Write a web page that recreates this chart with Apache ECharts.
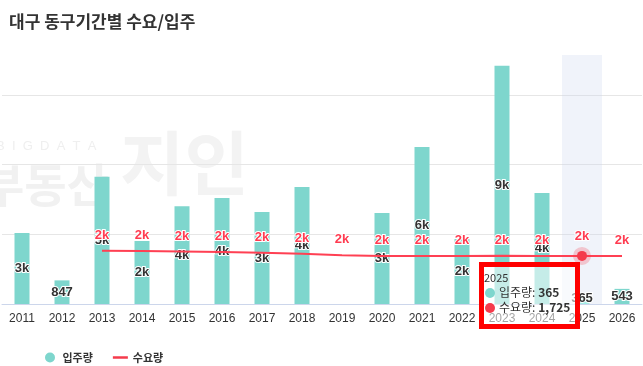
<!DOCTYPE html>
<html>
<head>
<meta charset="utf-8">
<script src="https://cdn.jsdelivr.net/npm/echarts@6/dist/echarts.min.js"></script>
<style>
  html, body { margin: 0; padding: 0; background: #fff; }
  #chart { width: 643px; height: 366px; }
</style>
</head>
<body>
<div id="chart"></div>
<script>
const years = ['2011', '2012', '2013', '2014', '2015', '2016', '2017', '2018',
               '2019', '2020', '2021', '2022', '2023', '2024', '2025', '2026'];
// 입주량
const supply = [2550, 847, 4560, 2260, 3510, 3800, 3300, 4200,
                null, 3260, 5630, 2330, 8540, 3980, 365, 543];
// 수요량
const demand = [null, null, 1912, 1900, 1885, 1865, 1840, 1805,
                1750, 1718, 1722, 1725, 1726, 1725, 1725, 1724];
const tipIndex = 14;

const teal = '#7ed6cd';
const red = '#f53b4c';
const cjk = '"Noto Sans CJK KR", "Noto Sans", sans-serif';
const narrow = '"Liberation Sans Narrow", "Liberation Sans", sans-serif';

const kFormat = (v) => {
    if (v === null || v === undefined) return '';
    if (v < 1000) return v + '';
    return Math.round(v / 1000) + 'k';
};

const comma = (v) => (v + '').replace(/(\d{1,3})(?=(?:\d{3})+(?!\d))/g, '$1,');

const dot = (color) => '<span style="display:inline-block;width:10px;height:10px;border-radius:5px;background:'
    + color + ';margin-right:4px;vertical-align:-1px"></span>';

const tipFormatter = (params) => {
    let html = '<div style="font-size:11px;line-height:13px;margin-left:-1px">' + params[0].name + '</div>';
    params.forEach(p => {
        const color = p.seriesIndex === 0 ? teal : red;
        html += '<div style="line-height:15px">' + dot(color) + p.seriesName + ': <b>' + comma(p.value) + '</b></div>';
    });
    return html;
};

const lineLabel = {
    show: true,
    position: 'top',
    distance: 4,
    formatter: (p) => kFormat(p.value),
    fontFamily: narrow,
    fontSize: 13,
    fontWeight: 'bold',
    color: '#ff3b50',
    textBorderColor: '#fff',
    textBorderWidth: 2
};

const myChart = echarts.init(document.getElementById('chart'));

myChart.setOption({
    animation: false,
    title: {
        text: '대구 동구기간별 수요/입주',
        left: 4,
        top: 8,
        textStyle: { fontFamily: cjk, fontSize: 17, fontWeight: 'bold', color: '#333' }
    },
    graphic: [
        { type: 'text', z: -5, left: -4, top: 140,
          style: { text: 'B  I  G  D  A  T  A', font: '13px ' + narrow, fill: '#efefef' } },
        { type: 'text', z: -5, left: -18, top: 162,
          style: { text: '부동산', font: 'bold 46px ' + cjk, fill: '#f1f1f1' } },
        { type: 'text', z: -5, left: 120, top: 128,
          style: { text: '지인', font: 'bold 70px ' + cjk, fill: '#f3f3f3' } }
    ],
    legend: {
        left: 40,
        top: 347,
        itemWidth: 15,
        itemHeight: 10,
        itemGap: 20,
        textStyle: { fontFamily: cjk, fontSize: 11, fontWeight: 'bold', color: '#333' },
        data: [
            { name: '입주량', icon: 'circle', itemStyle: { color: teal } },
            { name: '수요량', icon: 'path://M0,0H15V2.5H0Z', itemStyle: { color: red } }
        ]
    },
    tooltip: {
        trigger: 'axis',
        alwaysShowContent: true,
        transitionDuration: 0,
        position: [479, 262],
        axisPointer: {
            type: 'shadow',
            z: 1,
            shadowStyle: { color: 'rgba(205,216,238,0.3)' }
        },
        backgroundColor: 'rgba(255,255,255,0.55)',
        borderColor: '#ff0000',
        borderWidth: 5,
        borderRadius: 0,
        padding: [4, 2, 2, 1],
        textStyle: { fontFamily: cjk, fontSize: 12, color: '#333' },
        extraCssText: 'box-shadow:none;box-sizing:border-box;width:101px;height:67px;',
        formatter: tipFormatter
    },
    grid: { left: 2, right: 1, top: 55, bottom: 62 },
    xAxis: {
        type: 'category',
        data: years,
        axisLine: { lineStyle: { color: '#ccd6eb' } },
        axisTick: { show: false },
        axisLabel: { fontFamily: narrow, fontSize: 12, color: '#333', margin: 9 }
    },
    yAxis: {
        type: 'value',
        min: 0,
        max: 8930,
        interval: 2500,
        axisLine: { show: false },
        axisTick: { show: false },
        axisLabel: { show: false },
        splitLine: { showMaxLine: false, lineStyle: { color: '#e6e6e6' } }
    },
    series: [
        {
            name: '입주량',
            type: 'bar',
            data: supply,
            barWidth: 15,
            itemStyle: { color: teal },
            emphasis: { itemStyle: { color: '#a3ece5' } },
            label: {
                show: true,
                position: 'inside',
                formatter: (p) => kFormat(p.value),
                fontFamily: narrow,
                fontSize: 13,
                fontWeight: 'bold',
                color: '#333',
                textBorderColor: '#fff',
                textBorderWidth: 2
            }
        },
        {
            name: '수요량',
            type: 'line',
            z: 3,
            data: demand,
            symbol: 'circle',
            symbolSize: 10,
            showSymbol: true,
            lineStyle: { color: red, width: 2 },
            itemStyle: { color: 'rgba(0,0,0,0)', borderWidth: 0 },
            emphasis: {
                scale: false,
                lineStyle: { width: 2 },
                label: { color: '#ff3b50' },
                itemStyle: { color: red, borderColor: 'rgba(245,59,76,0.25)', borderWidth: 8 }
            },
            label: lineLabel
        }
    ]
});

myChart.dispatchAction({ type: 'showTip', seriesIndex: 0, dataIndex: tipIndex });
</script>
</body>
</html>
